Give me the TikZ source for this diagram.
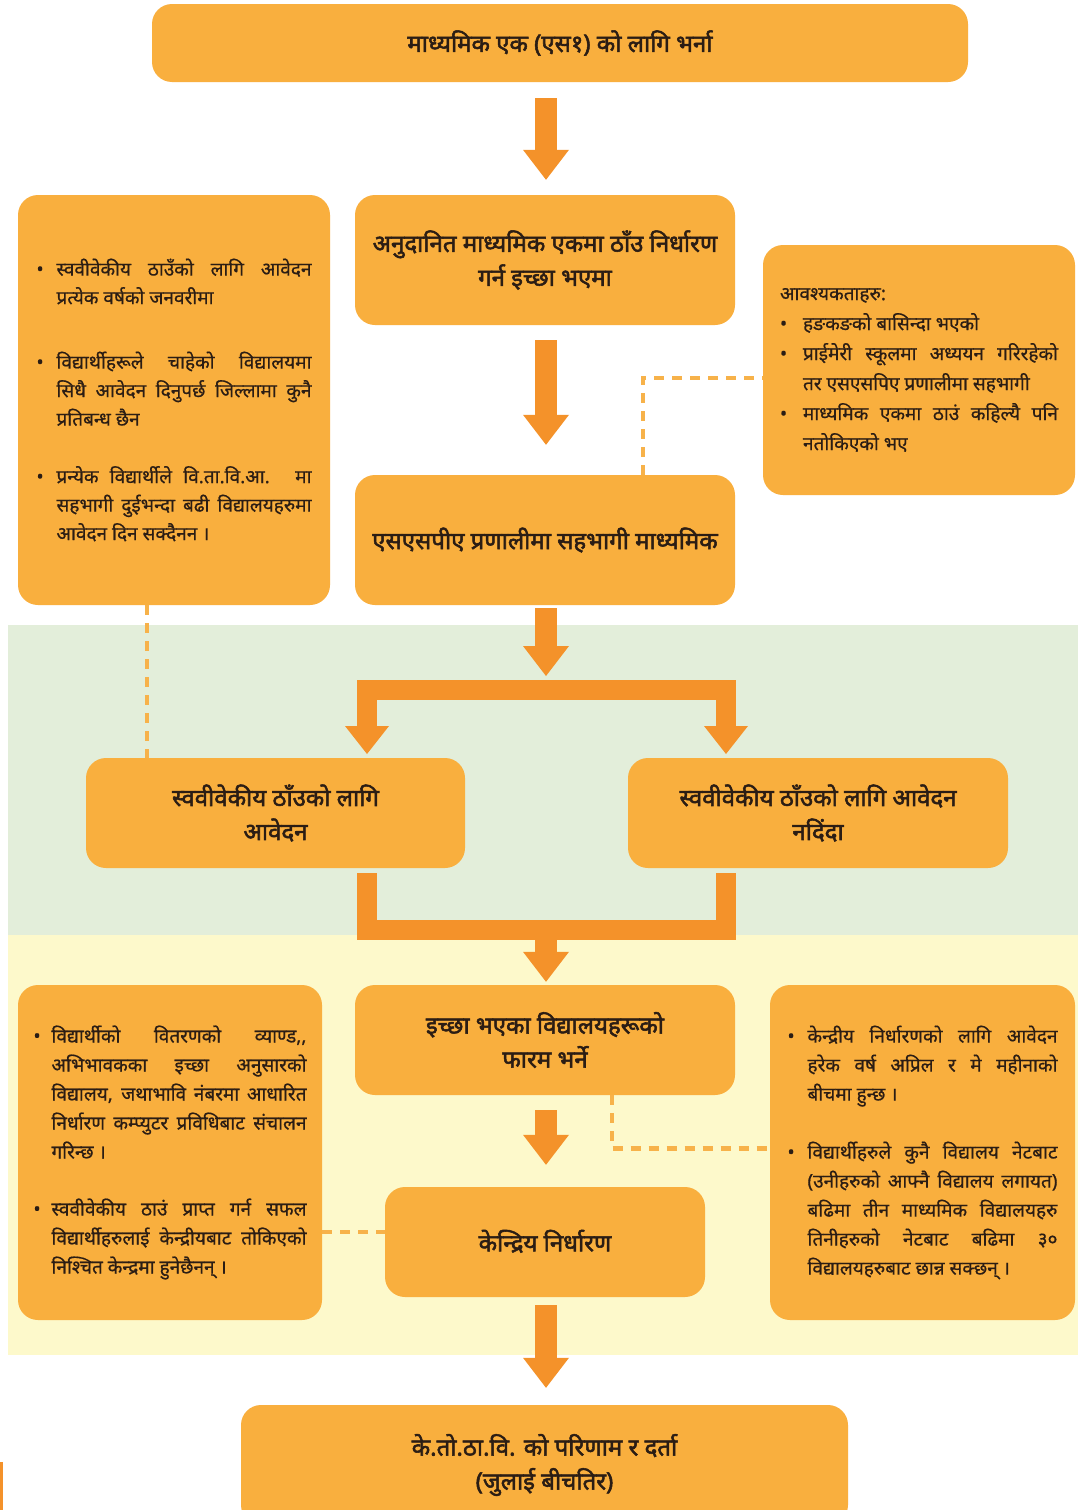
\documentclass[tikz,border=0pt]{standalone}
\usepackage{fontspec}
\newfontfamily\dev[Script=Devanagari,FakeBold=0.6]{Noto Sans}
\newfontfamily\devb[Script=Devanagari,FakeBold=2.2]{Noto Sans}
\usetikzlibrary{arrows.meta}
\definecolor{boxc}{HTML}{F9AF3E}
\definecolor{arrc}{HTML}{F4922A}
\definecolor{dashc}{HTML}{F7B24A}
\definecolor{greenc}{HTML}{E3EEDA}
\definecolor{yelc}{HTML}{FDF9CB}
\definecolor{txtc}{HTML}{2B1D14}
\newlength\bw \newlength\tw
\newcommand\jfirst[1]{\noindent\makebox[\bw][l]{•}\makebox[\tw][s]{#1}\par}
\newcommand\jmid[1]{\noindent\hspace*{\bw}\makebox[\tw][s]{#1}\par}
\newcommand\jlast[1]{\noindent\hspace*{\bw}#1\par}
\newcommand\jone[1]{\noindent\makebox[\bw][l]{•}#1\par}
\begin{document}
\begin{tikzpicture}[x=1pt,y=-1pt,
  box/.style={rounded corners=20pt, fill=boxc, inner sep=0pt, align=center, text=txtc,
    font=\devb\fontsize{24}{34}\selectfont},
  info/.style={rounded corners=20pt, fill=boxc, inner sep=0pt, text=txtc,
    font=\dev\fontsize{19}{28.5}\selectfont},
  bigarrow/.style={draw=arrc, line width=22pt, -{Triangle[width=46pt,length=30pt,line width=0pt]}},
  barline/.style={draw=arrc, line width=20pt},
  dashline/.style={draw=dashc, line width=4.5pt, dash pattern=on 10pt off 8pt}]
\useasboundingbox (0,0) rectangle (1078,1510);
\clip (0,0) rectangle (1078,1510);
\fill[white] (0,0) rectangle (1078,1510);
\fill[greenc] (8,625) rectangle (1078,935);
\fill[yelc] (8,935) rectangle (1078,1355);
\fill[arrc] (0,1462) rectangle (3,1510);

% main boxes
\node[box, minimum width=816pt, minimum height=78pt] (top) at (560,43)
  {\raisebox{-4pt}{माध्यमिक एक (एस१) को लागि भर्ना}};
\node[box, minimum width=380pt, minimum height=130pt] (m1) at (545,260)
  {अनुदानित माध्यमिक एकमा ठाँउ निर्धारण\\गर्न इच्छा भएमा};
\node[box, minimum width=380pt, minimum height=130pt] (m2) at (545,540)
  {एसएसपीए प्रणालीमा सहभागी माध्यमिक};
\node[box, minimum width=379pt, minimum height=110pt] (bl) at (275.5,813)
  {स्ववीवेकीय ठाँउको लागि\\आवेदन};
\node[box, minimum width=380pt, minimum height=110pt] (br) at (818,813)
  {\raisebox{-6pt}{स्ववीवेकीय ठाँउको लागि आवेदन}\\\raisebox{-6pt}{नदिंदा}};
\node[box, minimum width=380pt, minimum height=110pt] (m3) at (545,1040)
  {\raisebox{-5pt}{इच्छा भएका विद्यालयहरूको}\\\raisebox{-5pt}{फारम भर्ने}};
\node[box, minimum width=320pt, minimum height=110pt] (kd) at (545,1242)
  {\raisebox{3pt}{केन्द्रिय निर्धारण}};
\node[box, minimum width=607pt, minimum height=120pt] (bot) at (544.5,1465)
  {के.तो.ठा.वि. को परिणाम र दर्ता\\(जुलाई बीचतिर)};

% info boxes
\node[info, minimum width=312pt, minimum height=410pt] (lbox) at (174,400)
  {\parbox{275pt}{\setlength\bw{20pt}\setlength\tw{255pt}%
  \jfirst{स्ववीवेकीय ठाउँको लागि आवेदन}
  \jlast{प्रत्येक वर्षको जनवरीमा}
  \vspace{36pt}
  \jfirst{विद्यार्थीहरूले चाहेको विद्यालयमा}
  \jmid{सिधै आवेदन दिनुपर्छ जिल्लामा कुनै}
  \jlast{प्रतिबन्ध छैन}
  \vspace{29pt}
  \jfirst{प्रन्येक विद्यार्थीले वि.ता.वि.आ. मा}
  \jmid{सहभागी दुईभन्दा बढी विद्यालयहरुमा}
  \jlast{आवेदन दिन सक्दैनन ।}}};
\node[info, minimum width=312pt, minimum height=250pt] (rbox) at (919,370)
  {\parbox{278pt}{\fontsize{19}{30}\selectfont\setlength\bw{23pt}\setlength\tw{255pt}%
  \noindent आवश्यकताहरु:\par
  \jone{हङकङको बासिन्दा भएको}
  \jfirst{प्राईमेरी स्कूलमा अध्ययन गरिरहेको}
  \jlast{तर एसएसपिए प्रणालीमा सहभागी}
  \jfirst{माध्यमिक एकमा ठाउं कहिल्यै पनि}
  \jlast{नतोकिएको भए}}};
\node[info, minimum width=304pt, minimum height=335pt] (lbox2) at (170,1152.5)
  {\parbox{273pt}{\fontsize{19}{29}\selectfont\setlength\bw{18pt}\setlength\tw{255pt}%
  \jfirst{विद्यार्थीको वितरणको व्याण्ड,,}
  \jmid{अभिभावकका इच्छा अनुसारको}
  \jmid{विद्यालय, जथाभावि नंबरमा आधारित}
  \jmid{निर्धारण कम्प्युटर प्रविधिबाट संचालन}
  \jlast{गरिन्छ ।}
  \vspace{28pt}
  \jfirst{स्ववीवेकीय ठाउं प्राप्त गर्न सफल}
  \jmid{विद्यार्थीहरुलाई केन्द्रीयबाट तोकिएको}
  \jlast{निश्चित केन्द्रमा हुनेछैनन् ।}}};
\node[info, minimum width=305pt, minimum height=335pt] (rbox2) at (922.5,1152.5)
  {\parbox{270pt}{\fontsize{19}{29}\selectfont\setlength\bw{20pt}\setlength\tw{250pt}%
  \jfirst{केन्द्रीय निर्धारणको लागि आवेदन}
  \jmid{हरेक वर्ष अप्रिल र मे महीनाको}
  \jlast{बीचमा हुन्छ ।}
  \vspace{29pt}
  \jfirst{विद्यार्थीहरुले कुनै विद्यालय नेटबाट}
  \jmid{(उनीहरुको आफ्नै विद्यालय लगायत)}
  \jmid{बढिमा तीन माध्यमिक विद्यालयहरु}
  \jmid{तिनीहरुको नेटबाट बढिमा ३०}
  \jlast{विद्यालयहरुबाट छान्न सक्छन् ।}}};

% coordinates
\coordinate (ax) at (546,0);
\coordinate (split) at (546,690);
\coordinate (blin) at (367,754);
\coordinate (brin) at (726,754);
\coordinate (blout) at (367,873);
\coordinate (brout) at (726,873);
\coordinate (merge) at (546,930);
\coordinate (d1) at (643,0);
\coordinate (d2) at (147,0);
\coordinate (d3) at (612,0);

% arrows
\draw[bigarrow, shorten <=16pt, shorten >=15pt] (top.south -| ax) -- (m1.north -| ax);
\draw[bigarrow, shorten <=15pt, shorten >=30pt] (m1.south -| ax) -- (m2.north -| ax);
\draw[bigarrow, shorten <=3pt, shorten >=14pt] (m2.south -| ax) -- (split);
\draw[barline, -{Triangle[width=44pt,length=28pt,line width=0pt]}] (split) -| (blin);
\draw[barline, -{Triangle[width=44pt,length=28pt,line width=0pt]}] (split) -| (brin);
\draw[barline] (blout) |- (merge) -| (brout);
\draw[bigarrow, shorten <=0pt, shorten >=3pt] (merge) -- (m3.north -| ax);
\draw[bigarrow, shorten <=15pt, shorten >=22pt] (m3.south -| ax) -- (kd.north -| ax);
\draw[bigarrow, shorten <=8pt, shorten >=17pt] (kd.south -| ax) -- (bot.north -| ax);

% dashed connectors
\draw[dashline] (m2.north -| d1) |- ([yshift=-8pt]rbox.west);
\draw[dashline] (lbox.south -| d2) -- (bl.north -| d2);
\draw[dashline] (m3.south -| d3) |- ([yshift=4pt]rbox2.west);
\draw[dashline] ([yshift=10pt]kd.west -| lbox2.east) -- ([yshift=10pt]kd.west);
\end{tikzpicture}
\end{document}
